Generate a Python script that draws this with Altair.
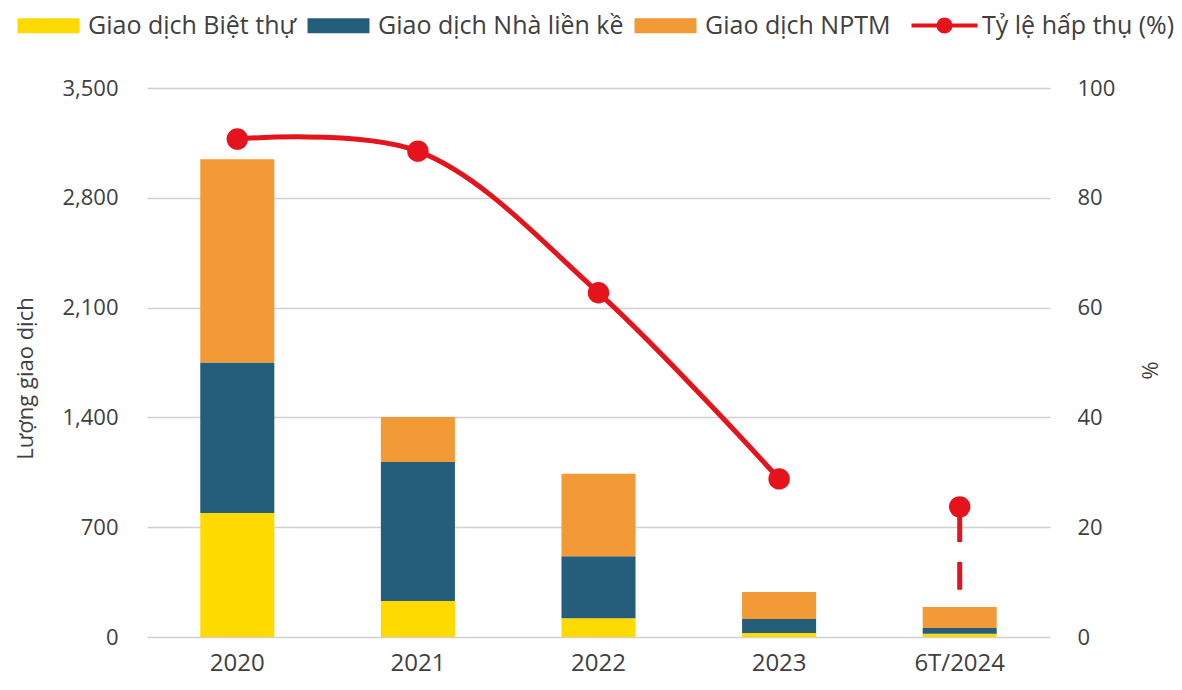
import altair as alt
import pandas as pd

categories = ["2020", "2021", "2022", "2023", "6T/2024"]
biet_thu = [790, 230, 120, 25, 20]
lien_ke = [960, 885, 395, 90, 37]
nptm = [1295, 287, 525, 172, 134]
ty_le = [90.7, 88.5, 62.7, 28.8, 23.7]
dash_end = [8.6]

series_names = ["Giao dịch Biệt thự", "Giao dịch Nhà liền kề", "Giao dịch NPTM"]
series_colors = ["#FFDA00", "#245E7A", "#F29A36"]
rate_name = "Tỷ lệ hấp thụ (%)"
RED = "#E5141C"
TXT = "#404040"
FONT = "Open Sans"

rows = []
for i, c in enumerate(categories):
    for k, vals in enumerate([biet_thu, lien_ke, nptm]):
        rows.append({"cat": c, "series": series_names[k], "value": vals[i], "ord": k})
bars_df = pd.DataFrame(rows)
rate_df = pd.DataFrame({"cat": categories, "rate": ty_le, "series": [rate_name] * len(categories)})
line_df = rate_df.iloc[:4]
dash_df = pd.DataFrame({"cat": [categories[-1]], "rate": [ty_le[-1]], "end": dash_end})

x_enc = alt.X(
    "cat:N", sort=categories, title=None,
    scale=alt.Scale(paddingInner=0.59, paddingOuter=0.295),
    axis=alt.Axis(labelFontSize=24, labelColor=TXT, labelFont=FONT, labelPadding=14,
                  domain=False, ticks=False, labelAngle=0),
)

bars = alt.Chart(bars_df).mark_bar().encode(
    x=x_enc,
    y=alt.Y("value:Q", stack="zero", scale=alt.Scale(domain=[0, 3500], nice=False),
            axis=alt.Axis(values=[0, 700, 1400, 2100, 2800, 3500], format=",.0f",
                          title="Lượng giao dịch", titleFont=FONT, titleFontSize=22,
                          titleFontWeight="normal", titleColor=TXT,
                          titleX=-122, titleY=290, titleAlign="center", titleBaseline="middle",
                          labelFont=FONT, labelFontSize=22, labelColor=TXT, labelPadding=29,
                          domain=False, ticks=False, grid=True, gridColor="#D0D0D0",
                          gridWidth=1.5)),
    fill=alt.Fill("series:N", scale=alt.Scale(domain=series_names, range=series_colors),
                  legend=alt.Legend(orient="none", legendX=-111, legendY=-75, direction="horizontal",
                                    title=None, labelFont=FONT, labelFontSize=25, labelColor=TXT,
                                    symbolType="M-3.1,-0.75H3.1V0.75H-3.1Z", symbolSize=400,
                                    symbolStrokeWidth=0, labelOffset=27, columnPadding=10,
                                    labelLimit=400, padding=0)),
    order=alt.Order("ord:Q"),
)

y_right = alt.Y("rate:Q", scale=alt.Scale(domain=[0, 100], nice=False),
                axis=alt.Axis(orient="right", values=[0, 20, 40, 60, 80, 100],
                              title="%", titleFont=FONT, titleFontSize=22, titleFontWeight="normal",
                              titleColor=TXT, titleX=98, titleY=282, titleAlign="center",
                              titleBaseline="middle",
                              labelFont=FONT, labelFontSize=22, labelColor=TXT, labelPadding=27,
                              domain=False, ticks=False, grid=False))

line = alt.Chart(line_df).mark_line(strokeWidth=5, interpolate="catmull-rom").encode(
    x=alt.X("cat:N", sort=categories),
    y=y_right,
    stroke=alt.Stroke("series:N", scale=alt.Scale(domain=[rate_name], range=[RED]),
                      legend=alt.Legend(orient="none", legendX=785, legendY=-75, title=None,
                                        labelFont=FONT, labelFontSize=25, labelColor=TXT,
                                        symbolType="M-3.3,0H3.3M-0.6,0A0.6,0.6,0,1,0,0.6,0A0.6,0.6,0,1,0,-0.6,0Z",
                                        symbolSize=400, symbolStrokeWidth=4, symbolFillColor=RED,
                                        labelOffset=25, labelLimit=400, padding=0)),
)

points = alt.Chart(rate_df).mark_circle(size=460, opacity=1, color=RED).encode(
    x=alt.X("cat:N", sort=categories),
    y=y_right,
)

dash = alt.Chart(dash_df).mark_rule(strokeWidth=5, strokeDash=[35, 20], color=RED).encode(
    x=alt.X("cat:N", sort=categories),
    y=y_right,
    y2="end:Q",
)

right = alt.layer(dash, line, points)

chart = alt.layer(bars, right).resolve_scale(y="independent").properties(
    width=903, height=549,
    autosize=alt.AutoSizeParams(type="none"),
    padding={"left": 139, "top": 80, "right": 124, "bottom": 45},
).configure_view(stroke=None)

chart.save("out.html", embed_options={"renderer": "svg", "actions": False})
